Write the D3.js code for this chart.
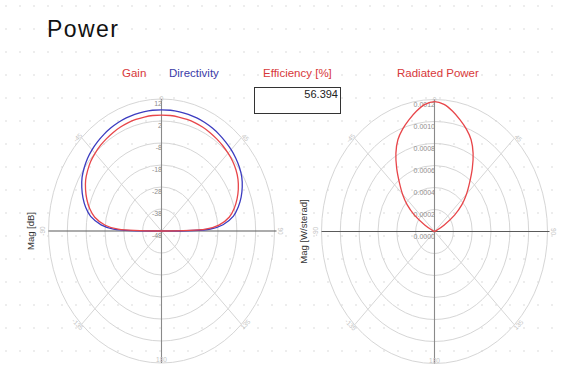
<!DOCTYPE html>
<html>
<head>
<meta charset="utf-8">
<script src="https://cdn.jsdelivr.net/npm/d3@7"></script>
<style>
  html, body { margin: 0; padding: 0; background: #fff; }
  svg { display: block; font-family: "Liberation Sans", Arial, sans-serif; }
</style>
</head>
<body>
<svg id="chart" width="565" height="370"></svg>
<script>
// Far-field cut, theta in degrees (0 = broadside, clockwise positive)
const gainAngles = [-90,-88,-85,-80,-75,-70,-65,-60,-55,-50,-45,-40,-35,-30,-25,-20,-15,-10,-5,0,
                    5,10,15,20,25,30,35,40,45,50,55,60,65,70,75,80,85,88,90];
const gainDb = [-48,-25,-18,-12,-8.5,-5.8,-3.5,-1.5,-0.1,1.1,1.9,2.6,3.1,3.6,4.0,4.3,4.5,4.6,4.7,4.7,
                4.7,4.6,4.5,4.3,4.0,3.6,3.1,2.6,2.0,1.3,0.3,-1.1,-3.0,-5.3,-8.0,-11.4,-17.4,-24.5,-48];
const directivityDb = [-48,-22.5,-15.8,-9.8,-6.3,-3.6,-1.3,0.7,2.1,3.3,4.2,4.9,5.5,6.0,6.4,6.7,6.9,7.0,7.1,7.1,
                       7.1,7.0,6.9,6.7,6.4,6.0,5.5,4.9,4.3,3.5,2.5,1.2,-0.7,-3.0,-5.8,-9.2,-15.2,-22,-48];
const dbTicks = [-48,-38,-28,-18,-8,2,12];

const powerAngles = [-90,-85,-80,-75,-70,-65,-60,-55,-50,-45,-40,-35,-30,-25,-20,-15,-10,-5,0,
                     5,10,15,20,25,30,35,40,45,50,55,60,65,70,75,80,85,90];
const radiatedPower = [0,0,0,0,0.00001,0.00003,0.00012,0.00026,0.00038,0.00048,0.00058,0.00070,0.00082,0.00092,0.00099,0.00105,0.00111,0.00116,0.00118,
                       0.00116,0.00111,0.00105,0.00099,0.00092,0.00082,0.00070,0.00058,0.00048,0.00038,0.00026,0.00012,0.00003,0.00001,0,0,0,0];
const powerTicks = [0,0.0002,0.0004,0.0006,0.0008,0.0010,0.0012];

const angleTicks = [0,45,90,135,180,-135,-90,-45];
const efficiency = 56.394;

const svg = d3.select("#chart");
const W = 565, H = 370;

// canvas dot grid
const dots = svg.append("g");
for (let y = 6; y < H; y += 23) {
  for (let x = 6; x < W; x += 14) {
    dots.append("circle").attr("cx", x).attr("cy", y).attr("r", 0.7).attr("fill", "#cdcdcd");
  }
}

// title
svg.append("text").attr("x", 47).attr("y", 37)
  .attr("font-size", 23).attr("letter-spacing", 1.4).attr("fill", "#111").text("Power");

// legend / headings
const heads = [
  {t: "Gain", x: 122, c: "#d8383a"},
  {t: "Directivity", x: 169, c: "#3b3ba8"},
  {t: "Efficiency [%]", x: 263, c: "#d8383a"},
  {t: "Radiated Power", x: 397, c: "#d8383a"}
];
svg.selectAll("text.head").data(heads).join("text")
  .attr("class", "head").attr("x", d => d.x).attr("y", 77)
  .attr("font-size", 11.5).attr("fill", d => d.c).text(d => d.t);

// efficiency value box
svg.append("rect").attr("x", 254.5).attr("y", 87.5).attr("width", 86).attr("height", 26)
  .attr("fill", "#fff").attr("stroke", "#333").attr("stroke-width", 1);
svg.append("text").attr("x", 338).attr("y", 97.5).attr("text-anchor", "end")
  .attr("font-size", 11).attr("fill", "#222").text(efficiency.toFixed(3));

function polarPlot(opt) {
  const {cx, cy, rx, ry, rScale, ticks, fmt, title} = opt;
  const g = svg.append("g");
  const px = (a, v) => cx + rScale(v) * rx * Math.sin(a * Math.PI / 180);
  const py = (a, v) => cy - rScale(v) * ry * Math.cos(a * Math.PI / 180);

  // rings
  g.selectAll("ellipse").data(ticks.slice(1)).join("ellipse")
    .attr("cx", cx).attr("cy", cy)
    .attr("rx", d => rScale(d) * rx).attr("ry", d => rScale(d) * ry)
    .attr("fill", "none").attr("stroke", "#d6d6d6").attr("stroke-width", 1);

  // diagonal spokes
  [45, 135, -135, -45].forEach(a => {
    g.append("line")
      .attr("x1", cx).attr("y1", cy)
      .attr("x2", cx + rx * Math.sin(a * Math.PI / 180))
      .attr("y2", cy - ry * Math.cos(a * Math.PI / 180))
      .attr("stroke", "#d6d6d6").attr("stroke-width", 1);
  });

  // main axes
  g.append("line").attr("x1", cx - rx).attr("x2", cx + rx + 2).attr("y1", cy).attr("y2", cy)
    .attr("stroke", "#5a5a5a").attr("stroke-width", 1.1);
  g.append("line").attr("x1", cx).attr("x2", cx).attr("y1", cy - ry).attr("y2", cy + ry)
    .attr("stroke", "#8a8a8a").attr("stroke-width", 1.1);

  // angle labels
  g.selectAll("text.ang").data(angleTicks).join("text")
    .attr("class", "ang")
    .attr("transform", a => {
      const x = cx + 1.05 * rx * Math.sin(a * Math.PI / 180);
      const y = cy - 1.0 * ry * Math.cos(a * Math.PI / 180) - (Math.abs(a) === 180 ? 3 : 0);
      const rot = Math.abs(a) > 90 ? a + 180 : a;
      return `translate(${x},${y}) rotate(${rot})`;
    })
    .attr("text-anchor", "middle").attr("dy", "0.35em")
    .attr("font-size", 6.5).attr("fill", "#c4c4c4").text(a => a);

  // radial tick labels
  g.selectAll("text.rt").data(ticks).join("text")
    .attr("class", "rt").attr("x", cx + 0.5).attr("y", d => cy - rScale(d) * ry + 7)
    .attr("text-anchor", "end").attr("font-size", 7).attr("fill", "#8e8e8e")
    .text(fmt);

  // axis title
  g.append("text")
    .attr("transform", `translate(${cx - rx - 15},${cy}) rotate(-90)`)
    .attr("text-anchor", "middle").attr("font-size", 9.5).attr("fill", "#333").text(title);

  return {g, px, py};
}

// left plot: gain & directivity (dB)
const dbScale = d3.scaleLinear().domain([-48, 12]).range([0, 1]).clamp(true);
const left = polarPlot({
  cx: 161.5, cy: 231, rx: 113, ry: 132, rScale: dbScale,
  ticks: dbTicks, fmt: d => d, title: "Mag [dB]"
});
const dirPts = gainAngles.map((a, i) => [a, directivityDb[i]]);
const gainPts = gainAngles.map((a, i) => [a, gainDb[i]]);
const lineL = d3.line().x(d => left.px(d[0], d[1])).y(d => left.py(d[0], d[1]))
  .curve(d3.curveCatmullRom.alpha(0.5));
left.g.append("path").attr("d", lineL(dirPts)).attr("fill", "none")
  .attr("stroke", "#3c3cc0").attr("stroke-width", 1.3);
left.g.append("path").attr("d", lineL(gainPts)).attr("fill", "none")
  .attr("stroke", "#e8464a").attr("stroke-width", 1.3);

// right plot: radiated power (W/sterad)
const pScale = d3.scaleLinear().domain([0, 0.0012]).range([0, 1]).clamp(true);
const right = polarPlot({
  cx: 434.5, cy: 231.5, rx: 113, ry: 132, rScale: pScale,
  ticks: powerTicks, fmt: d => d3.format(".4f")(d), title: "Mag  [W/sterad]"
});
const powPts = powerAngles.map((a, i) => [a, radiatedPower[i]]);
const lineR = d3.line().x(d => right.px(d[0], d[1])).y(d => right.py(d[0], d[1]))
  .curve(d3.curveCatmullRom.alpha(0.5));
right.g.append("path").attr("d", lineR(powPts)).attr("fill", "none")
  .attr("stroke", "#e8464a").attr("stroke-width", 1.3);
</script>
</body>
</html>
